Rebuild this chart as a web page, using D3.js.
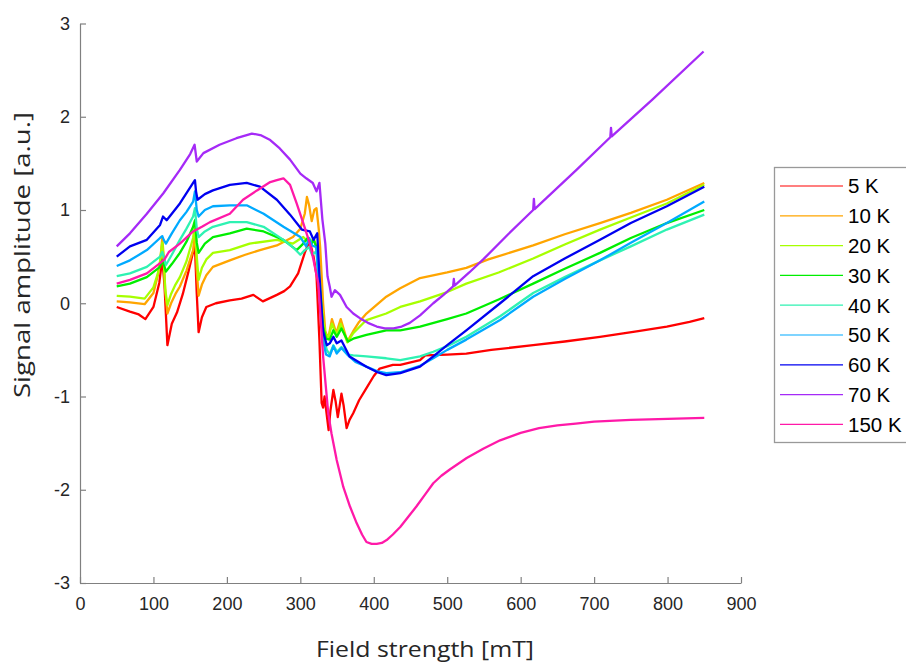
<!DOCTYPE html>
<html>
<head>
<meta charset="utf-8">
<script src="https://cdn.jsdelivr.net/npm/d3@7"></script>
<style>
body { margin: 0; background: #fff; }
svg { display: block; }
</style>
</head>
<body>
<svg id="chart" width="906" height="662"></svg>
<script>
// temperatures shown in the legend
const temps = ["5 K", "10 K", "20 K", "30 K", "40 K", "50 K", "60 K", "70 K", "150 K"];
const xTicks = [0, 100, 200, 300, 400, 500, 600, 700, 800, 900];
const yTicks = [-3, -2, -1, 0, 1, 2, 3];

// [field mT, amplitude a.u.]
const s5K = [[50,-0.04],[68,-0.09],[80,-0.12],[89,-0.17],[100,-0.04],[108,0.22],[112,0.48],[115,0.2],[119,-0.45],[125,-0.22],[132,-0.10],[140,0.1],[148,0.35],[154,0.55],[156.5,0.61],[159,0.1],[161.5,-0.31],[166,-0.15],[172,-0.04],[185,0.0],[204,0.03],[220,0.05],[236,0.09],[249,0.02],[260,0.06],[268,0.09],[278,0.13],[286,0.18],[297,0.32],[306,0.54],[310,0.62],[313,0.66],[318,0.5],[322,0.3],[326,-0.4],[329,-1.07],[331,-1.12],[333,-1.0],[336,-1.2],[338.5,-1.36],[341,-1.15],[345,-0.93],[348,-1.05],[351,-1.22],[353.5,-1.1],[356,-0.97],[359,-1.1],[363,-1.34],[367,-1.25],[372,-1.18],[380,-1.04],[390,-0.91],[400,-0.78],[408,-0.70],[426,-0.66],[436,-0.66],[463,-0.61],[470,-0.56],[500,-0.55],[526,-0.54],[560,-0.50],[617,-0.45],[660,-0.41],[708,-0.36],[760,-0.30],[799,-0.25],[830,-0.2],[850,-0.16]];
const s10K = [[50,0.02],[68,0.01],[88,-0.01],[100,0.11],[106,0.3],[109,0.43],[112,0.70],[114,0.5],[116,0.15],[119,-0.11],[124,0.0],[130,0.1],[136,0.18],[145,0.35],[154,0.57],[157,0.79],[159,0.35],[161.5,0.08],[166,0.2],[172,0.3],[181,0.39],[204,0.46],[225,0.52],[245,0.57],[268,0.62],[290,0.71],[300,0.8],[306,0.96],[309,1.14],[312,1.05],[315.5,0.88],[319,1.0],[322,1.02],[325,0.8],[327,0.6],[331,0.0],[334,-0.3],[338,-0.38],[343,-0.17],[349,-0.32],[355,-0.17],[364,-0.41],[372,-0.3],[380,-0.2],[390,-0.11],[417,0.07],[436,0.16],[463,0.27],[500,0.33],[526,0.38],[556,0.47],[617,0.62],[660,0.74],[708,0.86],[750,0.97],[799,1.11],[850,1.29]];
const s20K = [[50,0.08],[68,0.07],[88,0.05],[100,0.17],[106,0.32],[109,0.45],[112,0.65],[114,0.45],[116,0.15],[119,-0.02],[124,0.1],[130,0.2],[136,0.28],[145,0.45],[154,0.70],[156.5,0.84],[159,0.5],[161.5,0.25],[166,0.38],[172,0.47],[181,0.54],[204,0.57],[231,0.64],[268,0.68],[290,0.64],[304,0.71],[313,0.64],[318,0.7],[322,0.61],[326,0.3],[331,-0.18],[334,-0.32],[338,-0.38],[343,-0.22],[349,-0.34],[355,-0.22],[364,-0.42],[372,-0.32],[390,-0.18],[417,-0.11],[436,-0.04],[463,0.02],[500,0.12],[526,0.21],[570,0.33],[617,0.48],[660,0.63],[708,0.79],[750,0.92],[799,1.07],[850,1.27]];
const s30K = [[50,0.18],[68,0.21],[91,0.28],[109,0.39],[112,0.46],[114,0.42],[117,0.34],[125,0.42],[136,0.54],[145,0.66],[154,0.82],[156.5,0.89],[159,0.65],[161.5,0.54],[170,0.64],[181,0.71],[204,0.75],[227,0.80],[250,0.77],[277,0.68],[295,0.57],[304,0.64],[310,0.7],[314,0.62],[318,0.68],[322,0.60],[326,0.2],[331,-0.25],[335,-0.38],[340,-0.39],[345,-0.29],[349.5,-0.36],[356,-0.27],[365,-0.41],[372,-0.38],[390,-0.34],[417,-0.29],[436,-0.29],[463,-0.25],[500,-0.17],[526,-0.11],[570,0.04],[617,0.21],[660,0.37],[708,0.54],[750,0.70],[799,0.86],[850,1.0]];
const s40K = [[50,0.29],[68,0.32],[91,0.39],[109,0.50],[112,0.55],[114,0.5],[117,0.41],[125,0.52],[136,0.68],[145,0.8],[154,0.93],[156.5,1.02],[159,0.8],[161.5,0.71],[170,0.77],[181,0.82],[204,0.87],[227,0.87],[250,0.82],[277,0.68],[290,0.6],[300,0.52],[306,0.57],[312,0.6],[316,0.52],[322,0.56],[326,0.1],[331,-0.35],[336,-0.5],[340,-0.55],[345,-0.45],[350,-0.52],[356,-0.47],[365,-0.55],[372,-0.56],[390,-0.57],[417,-0.59],[436,-0.61],[463,-0.57],[481,-0.52],[500,-0.46],[526,-0.36],[572,-0.14],[617,0.11],[660,0.28],[708,0.46],[750,0.61],[799,0.79],[850,0.95]];
const s50K = [[50,0.40],[68,0.46],[91,0.57],[109,0.70],[112,0.72],[114,0.68],[117,0.64],[125,0.75],[136,0.89],[145,0.98],[154,1.09],[156.5,1.20],[159,1.0],[161.5,0.93],[170,1.0],[181,1.04],[204,1.05],[227,1.05],[250,0.96],[277,0.82],[300,0.71],[308,0.61],[312,0.7],[316,0.62],[322,0.6],[326,0.1],[331,-0.4],[335,-0.55],[340,-0.57],[345,-0.46],[349.5,-0.54],[356,-0.48],[365,-0.56],[375,-0.63],[390,-0.68],[405,-0.73],[417,-0.75],[436,-0.74],[463,-0.67],[481,-0.59],[500,-0.50],[526,-0.39],[572,-0.18],[617,0.07],[660,0.26],[708,0.46],[750,0.65],[799,0.86],[850,1.09]];
const s60K = [[50,0.50],[68,0.61],[91,0.68],[109,0.84],[113,0.93],[118,0.89],[125,0.96],[136,1.07],[145,1.18],[154,1.29],[156.5,1.32],[158,1.2],[160,1.11],[170,1.17],[181,1.21],[204,1.27],[227,1.29],[245,1.25],[268,1.11],[286,0.95],[302,0.79],[313,0.77],[318,0.68],[323,0.75],[326,0.3],[331,-0.3],[336,-0.45],[340,-0.43],[345,-0.36],[349.5,-0.43],[356,-0.40],[367,-0.57],[390,-0.68],[405,-0.74],[417,-0.77],[436,-0.75],[463,-0.68],[481,-0.57],[500,-0.45],[526,-0.29],[572,0.0],[617,0.29],[660,0.48],[708,0.68],[750,0.86],[799,1.04],[850,1.25]];
const s70K = [[50,0.61],[68,0.75],[91,0.96],[113.5,1.18],[136,1.43],[150,1.6],[156,1.70],[159,1.52],[168,1.61],[190,1.70],[213,1.77],[234,1.82],[247,1.80],[259,1.75],[272,1.66],[286,1.54],[300,1.39],[308,1.34],[317,1.29],[322,1.20],[326,1.29],[330,0.9],[334,0.64],[337,0.29],[340,0.18],[342.5,0.07],[347,0.14],[354,0.09],[363,-0.04],[372,-0.11],[381,-0.16],[392,-0.21],[404,-0.25],[415,-0.27],[427,-0.27],[438,-0.25],[449,-0.21],[463,-0.13],[481,0.0],[495,0.09],[508,0.18],[509,0.26],[510,0.19],[530,0.33],[549,0.47],[583,0.74],[617,1.0],[618,1.12],[619,1.01],[676,1.43],[722,1.78],[723,1.88],[724,1.79],[780,2.19],[849,2.70]];
const s150K = [[50,0.21],[68,0.25],[91,0.32],[109,0.43],[115,0.47],[121,0.55],[136,0.64],[154,0.77],[166,0.82],[177,0.87],[204,0.96],[222,1.11],[241,1.21],[259,1.30],[268,1.32],[277,1.34],[286,1.27],[295,1.07],[304,0.86],[313,0.64],[318,0.46],[324.5,0.21],[331,-0.57],[338,-1.18],[342.5,-1.40],[349.5,-1.68],[358.5,-1.97],[367.6,-2.18],[376.8,-2.36],[384,-2.48],[390,-2.56],[397,-2.58],[404,-2.58],[411,-2.57],[417.5,-2.54],[426,-2.48],[436,-2.40],[447,-2.29],[458,-2.18],[470,-2.05],[481,-1.93],[492,-1.85],[504,-1.78],[526.5,-1.66],[549,-1.56],[572,-1.47],[600,-1.39],[625,-1.34],[650,-1.31],[675,-1.29],[700,-1.27],[750,-1.25],[800,-1.24],[850,-1.23]];

const series = [s5K, s10K, s20K, s30K, s40K, s50K, s60K, s70K, s150K];
const colors = ["#ff0000", "#ffa500", "#a6ff00", "#00ee00", "#2ef2b2", "#00aaff", "#0000f0", "#a52af7", "#ff19a8"];

const svg = d3.select("#chart");

const x = d3.scaleLinear().domain([0, 900]).range([80, 741]);
const y = d3.scaleLinear().domain([-3, 3]).range([583, 23.5]);

// axes, ticks pointing inward like matlab
svg.append("g")
	.attr("transform", "translate(0," + y(-3) + ")")
	.call(d3.axisBottom(x).tickValues(xTicks).tickFormat(d => String(d)).tickSizeInner(-6).tickSizeOuter(0).tickPadding(14))
svg.append("g")
	.attr("transform", "translate(" + x(0) + ",0)")
	.call(d3.axisLeft(y).tickValues(yTicks).tickFormat(d => String(d)).tickSizeInner(-6).tickSizeOuter(0).tickPadding(10))

svg.selectAll(".domain, .tick line").attr("stroke", "#808080").attr("stroke-width", 1.2)
svg.selectAll(".tick text")
	.attr("fill", "#262626")
	.style("font-family", "'Liberation Sans', Arial, sans-serif")
	.style("font-size", "18px")

// curves
const line = d3.line()
	.x(d => x(d[0]))
	.y(d => y(d[1]))

svg.append("g")
	.selectAll("path")
	.data(series)
	.join("path")
	.attr("d", line)
	.attr("fill", "none")
	.attr("stroke", (d, i) => colors[i])
	.attr("stroke-width", 2.3)
	.attr("stroke-linejoin", "round")

// axis labels
svg.append("text")
	.attr("transform", "translate(30,255) rotate(-90)")
	.attr("text-anchor", "middle")
	.attr("textLength", 286)
	.attr("lengthAdjust", "spacingAndGlyphs")
	.style("font-family", "'Open Sans', sans-serif")
	.style("font-size", "22px")
	.attr("fill", "#262626")
	.text("Signal amplitude [a.u.]")

svg.append("text")
	.attr("x", 425)
	.attr("y", 657)
	.attr("text-anchor", "middle")
	.attr("textLength", 218)
	.attr("lengthAdjust", "spacingAndGlyphs")
	.style("font-family", "'Open Sans', sans-serif")
	.style("font-size", "22px")
	.attr("fill", "#262626")
	.text("Field strength [mT]")

// legend
const legend = svg.append("g")
legend.append("rect")
	.attr("x", 774.5).attr("y", 167.5)
	.attr("width", 160).attr("height", 275)
	.attr("fill", "#fff")
	.attr("stroke", "#999")
	.attr("stroke-width", 1.3)

const item = legend.selectAll("g.item")
	.data(temps)
	.join("g")
	.attr("class", "item")
	.attr("transform", (d, i) => "translate(0," + (186 + i * 29.8) + ")")

item.append("line")
	.attr("x1", 780).attr("x2", 843)
	.attr("stroke", (d, i) => colors[i])
	.attr("stroke-width", 1.2)

item.append("text")
	.attr("x", 848)
	.attr("dy", "0.36em")
	.style("font-family", "'Liberation Sans', Arial, sans-serif")
	.style("font-size", "20.5px")
	.attr("fill", "#000")
	.text(d => d)
</script>
</body>
</html>
